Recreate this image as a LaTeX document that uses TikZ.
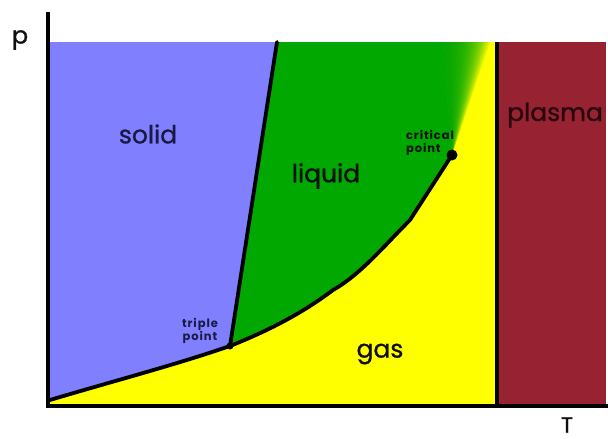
\documentclass[tikz,border=0pt]{standalone}
\usepackage{fontspec}
\setmainfont{Poppins}
\definecolor{solidc}{RGB}{128,128,255}
\definecolor{liquidc}{RGB}{0,168,0}
\definecolor{gasc}{RGB}{255,255,0}
\definecolor{plasmac}{RGB}{150,34,50}
\definecolor{navy}{RGB}{25,25,70}
\definecolor{ink}{RGB}{15,15,15}
\tikzset{
  phaselabel/.style={font=\fontsize{25}{27}\selectfont\addfontfeatures{FakeBold=1}, text=ink, inner sep=0pt},
  smalllabel/.style={font=\fontsize{11.5}{13}\selectfont\bfseries\addfontfeatures{LetterSpace=8}, align=center, inner sep=0pt},
  boundary/.style={line width=3.8pt, line join=round, line cap=round},
  axisline/.style={line width=4pt},
  dot/.style={circle, fill=black, inner sep=0pt}
}
\begin{document}
\begin{tikzpicture}[x=1pt,y=-1pt]
\useasboundingbox (0,0) rectangle (608,439);
% key points
\coordinate (tl) at (50,42);
\coordinate (sltop) at (277,42);
\coordinate (fadeL) at (443,42);
\coordinate (gtr) at (497,42);
\coordinate (gbr) at (497,405);
\coordinate (sstart) at (50,400);
\coordinate (triple) at (230,346);
\coordinate (crit) at (452,155);
% gas background
\fill[gasc] (tl) rectangle (gbr);
% plasma
\fill[plasmac] (gtr) rectangle (606,405);
% solid
\fill[solidc] (tl) -- (sltop) -- (triple)
  .. controls (175,365) and (110,382) .. (sstart) -- cycle;
% liquid
\fill[liquidc] (sltop) -- (fadeL) -- (crit)
  -- (410,220) .. controls (385,245) and (360,275) .. (333,290)
  .. controls (300,315) and (265,332) .. (triple) -- cycle;
% fade wedge
\foreach \i in {1,...,30}{
  \fill[liquidc, opacity=0.1] (crit) -- (fadeL) -- ({443+47*\i/30},42) -- cycle;
}
% boundaries
\draw[boundary] (sltop) -- (triple);
\draw[boundary] (sstart) .. controls (110,382) and (175,365) .. (triple);
\draw[boundary] (triple) .. controls (265,332) and (300,315) .. (333,290)
  .. controls (360,275) and (385,245) .. (410,220) -- (crit);
\draw[line width=4pt] (gtr) -- (gbr);
% dots
\node[dot, minimum size=11pt] (critdot) at (crit) {};
\node[dot, minimum size=7pt] (tripledot) at (triple) {};
% axes
\coordinate (ytop) at (48,12);
\coordinate (xend) at (608,406);
\draw[axisline] (ytop) -- (48,408);
\draw[axisline] (46,406) -- (xend);
% labels
\node[phaselabel, font=\fontsize{24}{26}\selectfont\addfontfeatures{FakeBold=1}] (plabel) at (20,40) {p};
\node[phaselabel, font=\fontsize{22}{24}\selectfont\addfontfeatures{FakeBold=1}] (tlabel) at (567,425) {T};
\node[phaselabel, text=navy] (solidlabel) at (148,134) {solid};
\node[phaselabel] (liquidlabel) at (326,176) {liquid};
\node[phaselabel, text={rgb,255:red,40;green,8;blue,12}] (plasmalabel) at (555,115) {plasma};
\node[phaselabel] (gaslabel) at (380,354) {gas};
\node[smalllabel, align=left, text=ink] (critlabel) at (430,143) {critical\\point};
\node[smalllabel, text=navy] (triplelabel) at (200,331) {triple\\point};
\end{tikzpicture}
\end{document}
